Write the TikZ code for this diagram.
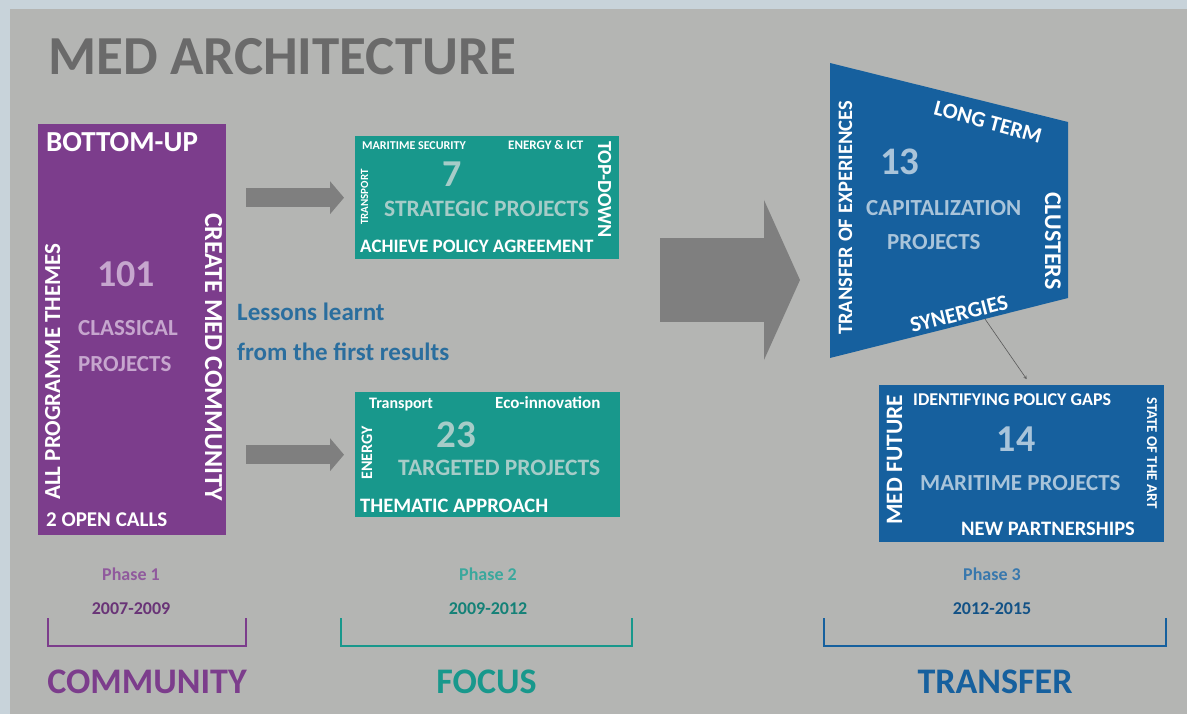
\documentclass[tikz,border=0pt]{standalone}
\usepackage{fontspec}
\setmainfont{Carlito}
\usetikzlibrary{arrows.meta}
\definecolor{framecol}{HTML}{C8D3DA}
\definecolor{bgcol}{HTML}{B4B5B3}
\definecolor{medpurple}{HTML}{7C3D8C}
\definecolor{medteal}{HTML}{18988C}
\definecolor{medblue}{HTML}{16609E}
\definecolor{lightpurple}{HTML}{C6A6CE}
\definecolor{lightteal}{HTML}{A6CCC8}
\definecolor{lightblue}{HTML}{A9C4DA}
\definecolor{arrowgray}{HTML}{7F7F7F}
\definecolor{titlegray}{HTML}{6A6A6A}
\definecolor{lessonblue}{HTML}{2A6E9E}
\newcommand{\fs}[1]{\fontsize{#1}{#1}\selectfont\bfseries}
\tikzset{>=stealth,
  txt/.style={inner sep=0pt, anchor=base west, font=\fs{#1}},
  box/.style={fill=#1, anchor=north west, inner sep=0pt},
  smallarrow/.style={arrowgray, line width=19pt, -{Triangle[length=14pt,width=33pt,line width=0pt]}},
  bigarrow/.style={arrowgray, line width=84pt, -{Triangle[length=36pt,width=160pt,line width=0pt]}}}

\begin{document}
\begin{tikzpicture}[x=1pt,y=-1pt]
\fill[framecol] (0,0) rectangle (1187,714);
\fill[bgcol] (10,9) rectangle (1187,714);
\node[txt=55, text=titlegray] (title) at (48,75) {MED ARCHITECTURE};

\node[box=medpurple, minimum width=188pt, minimum height=411pt] (classic) at (38,124) {};
\node[txt=29, text=white] (bottomup) at (46,152) {BOTTOM-UP};
\node[txt=38, anchor=base, text=lightpurple] (n101) at (126,287) {101};
\node[txt=23, text=lightpurple] (classical) at (78,336) {CLASSICAL};
\node[txt=23, text=lightpurple] (classproj) at (78,371) {PROJECTS};
\node[txt=23, rotate=90, text=white] (themes) at (60,500) {ALL PROGRAMME THEMES};
\node[txt=26, rotate=-90, text=white] (community) at (205,213) {CREATE MED COMMUNITY};
\node[txt=21, text=white] (calls) at (46,526) {2 OPEN CALLS};

\node[box=medteal, minimum width=264pt, minimum height=123pt] (strat) at (355,136) {};
\node[txt=12, text=white] (security) at (362,150) {MARITIME SECURITY};
\node[txt=13, text=white] (ict) at (508,150) {ENERGY \& ICT};
\node[txt=38, anchor=base, text=lightteal] (n7) at (452,187) {7};
\node[txt=11, rotate=90, text=white] (transp) at (368,225) {TRANSPORT};
\node[txt=23.5, text=lightteal] (stratproj) at (384,217) {STRATEGIC PROJECTS};
\node[txt=20, rotate=-90, text=white] (topdown) at (598,141) {TOP-DOWN};
\node[txt=19, text=white] (policy) at (360,253) {ACHIEVE POLICY AGREEMENT};

\node[box=medteal, minimum width=265pt, minimum height=125pt] (target) at (355,392) {};
\node[txt=16, text=white] (transport) at (369,408) {Transport};
\node[txt=17, text=white] (eco) at (495,408) {Eco-innovation};
\node[txt=39, anchor=base, text=lightteal] (n23) at (456,447) {23};
\node[txt=16, rotate=90, text=white] (energy) at (372,480) {ENERGY};
\node[txt=23.5, text=lightteal] (targproj) at (398,475) {TARGETED PROJECTS};
\node[txt=20.5, text=white] (thematic) at (360,512) {THEMATIC APPROACH};

\draw[smallarrow, shorten <=20pt, shorten >=11pt] (classic.east |- strat.west) -- (strat.west);
\draw[smallarrow, shorten <=20pt, shorten >=11pt] (classic.east |- target.west) -- (target.west);

\node[txt=25, text=lessonblue] (lessons) at (237,320) {Lessons learnt};
\node[txt=25, text=lessonblue] (results) at (237,360) {from the first results};

\fill[medblue] (830,63) -- (1068,122) -- (1068,298) -- (830,358) -- cycle;
\coordinate (capin) at (830,280);
\coordinate (capbot) at (985,319);
\node[txt=22, anchor=center, rotate=-15, text=white] (longterm) at (988,122) {LONG TERM};
\node[txt=39, text=lightblue] (n13) at (880,175) {13};
\node[txt=23, text=lightblue] (capital) at (866,216) {CAPITALIZATION};
\node[txt=23, text=lightblue] (capproj) at (887,250) {PROJECTS};
\node[txt=20.5, rotate=90, text=white] (experiences) at (852,335) {TRANSFER OF EXPERIENCES};
\node[txt=24, rotate=-90, text=white] (clusters) at (1045,192) {CLUSTERS};
\node[txt=22, anchor=center, rotate=14, text=white] (synergies) at (959,314) {SYNERGIES};

\coordinate (mid) at (620,280);
\draw[bigarrow, shorten <=40pt, shorten >=30pt] (mid) -- (capin);

\node[box=medblue, minimum width=285pt, minimum height=157pt] (mari) at (879,385) {};
\node[txt=18, text=white] (gaps) at (913,405) {IDENTIFYING POLICY GAPS};
\node[txt=38, anchor=base, text=lightblue] (n14) at (1016,451) {14};
\node[txt=23, text=lightblue] (mariproj) at (920,490) {MARITIME PROJECTS};
\node[txt=23.5, rotate=90, text=white] (future) at (902,525) {MED FUTURE};
\node[txt=15, rotate=-90, text=white] (art) at (1147,397) {STATE OF THE ART};
\node[txt=20.5, text=white] (partners) at (961,535) {NEW PARTNERSHIPS};
\draw[->, semithick, gray!70!black, shorten >=7pt] (capbot) -- ([xshift=9pt]mari.north);

\foreach \n/\px/\xa/\xb/\c/\yrs/\name in {1/131/48/246/medpurple/2007-2009/COMMUNITY,
  2/488/341/632/medteal/2009-2012/FOCUS, 3/992/824/1166/medblue/2012-2015/TRANSFER}
{
\node[txt=18, anchor=base, text=\c!85!white] (phase\n) at (\px,580) {Phase \n};
\node[txt=18, anchor=base, text=\c!85!black] (years\n) at (\px,614) {\yrs};
\draw[\c, line width=2.5pt] (\xa,618) |- (\xb,646) -- (\xb,618);
\node[txt=36, anchor=base, text=\c] (name\n) at ({(\xa+\xb)/2},693) {\name};
}
\end{tikzpicture}
\end{document}
